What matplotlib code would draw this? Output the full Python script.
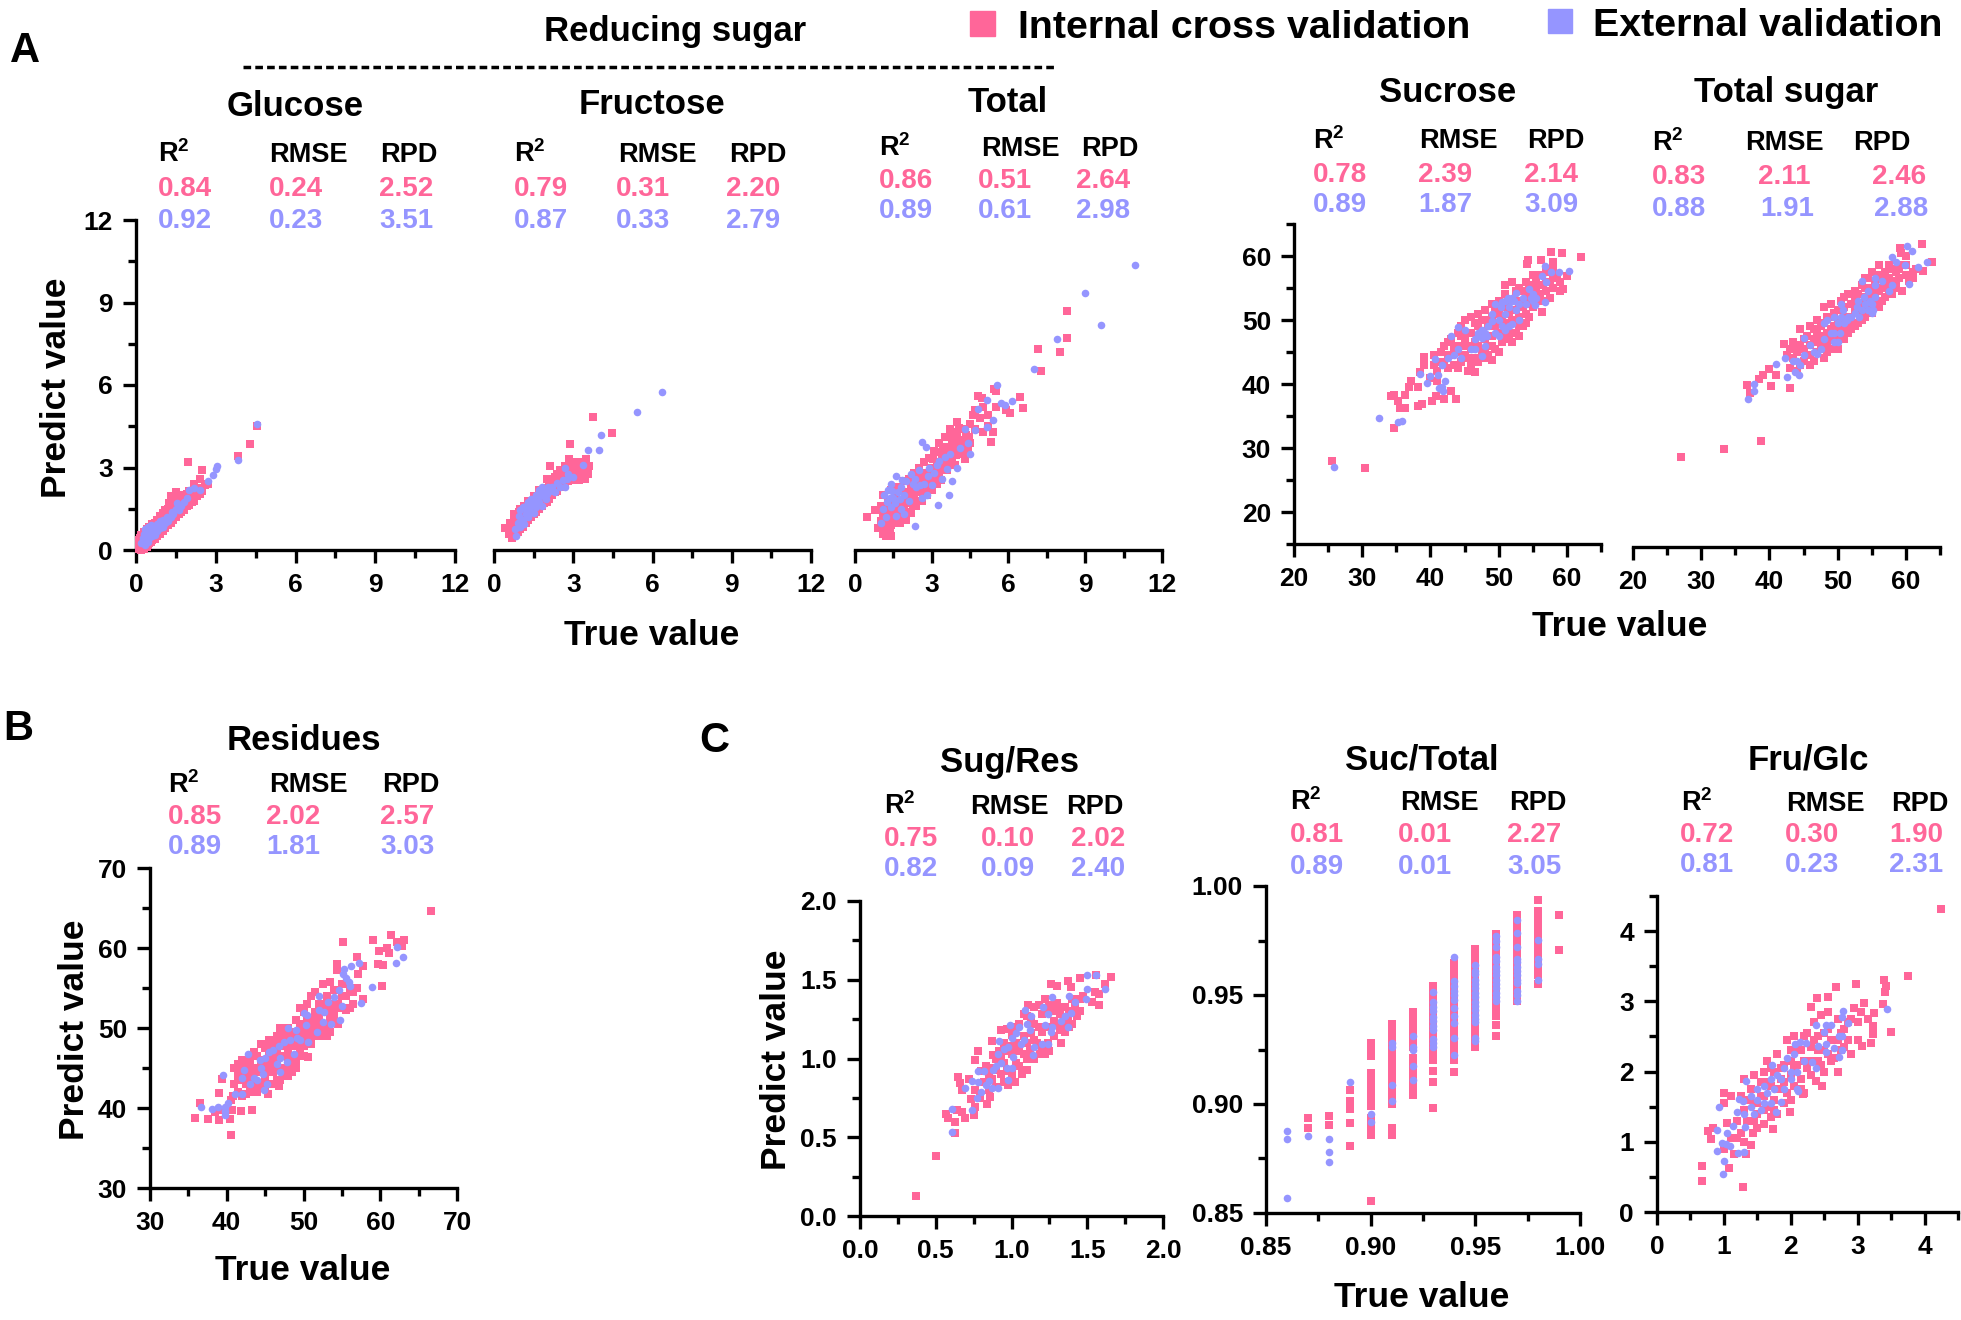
import numpy as np
import matplotlib
matplotlib.use("Agg")
import matplotlib.pyplot as plt
from matplotlib.ticker import MultipleLocator, FixedLocator

plt.rcParams['font.family'] = ['Liberation Sans', 'DejaVu Sans']
plt.rcParams['font.weight'] = 'bold'
plt.rcParams['mathtext.default'] = 'regular'

W, H = 1961, 1320
PINK = '#FF6699'
BLUE = '#9595FF'

# values: (true, predicted)
glc_cv = [(0.1,0.05),(0.1,0.2),(0.1,0.35),(0.15,0.1),(0.15,0.45),(0.2,0.0),(0.2,0.25),(0.2,0.55),(0.25,0.1),(0.25,0.4),(0.3,0.05),(0.3,0.3),(0.3,0.65),(0.35,0.15),(0.35,0.5),(0.4,0.1),(0.4,0.35),(0.4,0.75),(0.45,0.2),(0.45,0.6),(0.5,0.25),(0.5,0.5),(0.5,0.85),(0.55,0.3),(0.6,0.35),(0.6,0.65),(0.6,0.95),(0.7,0.4),(0.7,0.7),(0.7,1.0),(0.8,0.5),(0.8,0.85),(0.8,1.1),(0.9,0.6),(0.9,0.95),(0.9,1.25),(1.0,0.7),(1.0,1.05),(1.0,1.35),(1.1,0.8),(1.1,1.2),(1.1,1.45),(1.2,0.9),(1.2,1.3),(1.2,1.5),(1.3,1.0),(1.3,1.4),(1.3,1.95),(1.4,1.1),(1.4,1.5),(1.4,1.75),(1.5,1.2),(1.5,1.6),(1.5,2.1),(1.6,1.3),(1.6,1.75),(1.7,1.4),(1.7,1.85),(1.7,2.0),(1.8,1.45),(1.8,1.9),(1.9,1.6),(1.9,2.05),(2.0,1.65),(2.0,2.15),(2.1,1.75),(2.2,1.8),(2.2,2.4),(2.3,1.95),(2.4,2.05),(2.5,2.15),(2.4,2.6),(2.5,2.9),(1.96,3.2),(3.84,3.42),(4.3,3.85),(4.56,4.5),
          (1.25,1.7),(1.55,1.95),(1.75,1.6),(1.85,1.7),(2.05,1.9),(2.15,2.1),(2.3,2.25),(2.6,2.35),(2.7,2.4)]
glc_ev = [(0.2,0.25),(0.25,0.45),(0.3,0.3),(0.3,0.6),(0.35,0.2),(0.35,0.75),(0.4,0.4),(0.4,0.55),(0.45,0.3),(0.45,0.85),(0.5,0.45),(0.5,0.65),(0.55,0.9),(0.6,0.5),(0.6,0.75),(0.65,0.6),(0.7,0.55),(0.7,0.85),(0.8,0.7),(0.8,0.95),(0.9,0.8),(0.9,1.05),(1.0,0.85),(1.0,1.1),(1.1,1.0),(1.15,1.2),(1.2,1.05),(1.3,1.2),(1.4,1.3),(1.5,1.5),(1.55,1.7),(1.6,1.45),(1.7,1.6),(1.8,1.75),(1.9,1.9),(2.0,2.2),(2.2,2.25),(2.4,2.2),(2.71,2.5),(2.88,2.74),(3.06,3.04),(3.0,2.95),(3.84,3.29),(4.56,4.59),
          (0.55,0.55),(0.75,0.75),(0.85,0.85),(0.95,0.95),(1.05,1.05),(1.25,1.15),(1.35,1.4)]

fru_cv = [(0.43,0.8),(0.55,0.6),(0.6,1.0),(0.7,0.45),(0.7,0.75),(0.75,1.1),(0.75,1.3),(0.8,0.55),(0.8,0.9),(0.85,1.25),(0.9,0.65),(0.9,1.05),(0.95,1.4),(1.0,0.75),(1.0,1.15),(1.0,1.5),(1.05,0.95),(1.1,0.85),(1.1,1.3),(1.15,1.6),(1.2,1.0),(1.2,1.45),(1.3,1.1),(1.3,1.55),(1.3,1.8),(1.4,1.2),(1.4,1.65),(1.5,1.3),(1.5,1.75),(1.5,1.95),(1.6,1.4),(1.6,1.85),(1.7,1.5),(1.7,1.95),(1.7,2.2),(1.8,1.6),(1.8,2.05),(1.9,1.7),(1.9,2.15),(2.0,1.75),(2.0,2.25),(2.0,2.6),(2.1,1.85),(2.11,3.04),(2.1,2.4),(2.2,2.0),(2.2,2.5),(2.3,2.1),(2.3,2.65),(2.4,2.15),(2.4,2.75),(2.5,2.3),(2.5,2.9),(2.6,2.35),(2.6,2.75),(2.7,2.4),(2.7,3.05),(2.8,2.5),(2.89,3.84),(2.85,3.3),(2.9,2.55),(3.0,2.6),(3.0,3.2),(3.1,2.75),(3.2,2.55),(3.2,3.1),(3.3,2.7),(3.4,3.0),(3.5,3.3),(3.6,3.05),(3.55,2.75),(3.76,4.83),(4.45,4.27),
          (2.9,3.0),(3.1,3.0),(3.3,3.2),(3.45,2.6),(3.25,2.85),(2.95,2.75),(2.75,2.75),(2.45,2.55),(2.25,2.25)]
fru_ev = [(0.8,0.75),(0.85,0.5),(0.9,1.0),(0.95,1.25),(1.0,0.85),(1.0,1.45),(1.1,1.1),(1.1,1.55),(1.15,0.95),(1.2,1.3),(1.2,1.6),(1.3,1.2),(1.3,1.75),(1.4,1.4),(1.4,1.85),(1.5,1.35),(1.5,1.6),(1.6,1.55),(1.6,2.0),(1.7,1.75),(1.7,2.2),(1.8,1.6),(1.8,2.3),(1.9,1.95),(2.0,2.05),(2.1,2.15),(2.2,2.3),(2.3,2.1),(2.4,2.45),(2.5,2.3),(2.6,2.55),(2.7,2.3),(2.75,2.6),(2.7,3.0),(2.8,2.75),(3.0,2.65),(3.38,3.1),(3.55,3.65),(3.96,3.62),(4.05,4.2),(5.4,5.03),(6.36,5.76),
          (1.25,1.45),(1.35,1.55),(1.45,1.7),(1.55,1.8),(1.65,1.65),(1.75,1.95),(1.85,2.1),(1.95,1.85),(2.05,2.3),(2.25,2.15)]

tot_cv = [(0.45,1.2),(0.8,1.45),(0.9,0.8),(1.0,1.05),(1.0,1.6),(1.1,0.6),(1.1,1.3),(1.1,2.0),(1.2,0.5),(1.2,0.85),(1.2,1.5),(1.3,0.55),(1.3,1.1),(1.3,1.8),(1.4,0.5),(1.4,0.9),(1.4,2.2),(1.5,1.3),(1.5,1.65),(1.6,1.0),(1.6,2.0),(1.7,1.45),(1.7,2.3),(1.8,1.2),(1.8,1.8),(1.9,1.5),(1.9,2.5),(2.0,1.1),(2.0,2.1),(2.1,1.7),(2.1,2.6),(2.2,1.35),(2.2,2.3),(2.3,1.9),(2.3,2.8),(2.4,1.6),(2.4,2.5),(2.5,2.1),(2.5,3.0),(2.6,1.8),(2.6,2.7),(2.7,2.3),(2.7,3.2),(2.8,2.0),(2.8,2.8),(2.9,2.5),(2.9,3.35),(3.0,2.2),(3.0,3.0),(3.1,2.6),(3.1,3.6),(3.2,2.4),(3.2,3.2),(3.3,2.8),(3.3,3.9),(3.4,3.0),(3.4,3.5),(3.5,3.3),(3.5,4.1),(3.6,2.9),(3.6,3.7),(3.7,3.2),(3.7,4.4),(3.8,3.4),(3.8,4.0),(3.9,3.1),(3.9,3.7),(4.0,4.2),(4.0,4.65),(4.1,3.5),(4.1,3.9),(4.2,4.4),(4.3,3.3),(4.3,4.0),(4.4,3.6),(4.5,3.9),(4.5,4.6),(4.7,4.4),(4.7,5.1),(4.8,5.6),(4.9,4.8),(5.0,5.2),(5.0,4.3),(5.2,4.5),(5.2,4.9),(5.31,3.93),(5.4,4.3),(5.43,5.84),(5.5,5.8),(5.5,5.2),(5.9,5.1),(6.06,5.0),(6.45,5.58),(6.57,5.15),(4.96,5.53),(7.16,7.3),(7.28,6.5),(8.0,7.2),(8.27,7.7),(8.3,8.7),
          (1.15,1.1),(1.25,1.25),(1.35,0.7),(1.45,1.1),(1.55,1.45),(1.65,1.7),(1.75,1.0),(1.85,1.55),(1.95,1.85),(2.05,1.4),(2.15,2.0),(2.25,1.65),(2.35,2.2),(2.45,2.75),(2.55,2.4),(2.65,2.05),(2.75,2.6),(2.85,2.25),(2.95,2.75),(3.05,3.3),(3.15,2.85),(3.25,3.55),(3.35,2.55),(3.45,3.75),(3.55,3.15),(3.65,3.45),(3.75,3.75),(3.85,4.3),(3.95,3.45),(4.05,4.45),(4.15,3.7),(4.25,3.85),(4.35,4.2),(4.45,4.1),(4.6,4.9)]
tot_ev = [(1.0,1.0),(1.1,1.5),(1.15,2.0),(1.2,1.2),(1.25,1.75),(1.3,2.2),(1.4,2.4),(1.4,1.55),(1.5,1.9),(1.6,1.25),(1.6,2.7),(1.7,2.1),(1.8,1.5),(1.8,2.3),(1.9,1.3),(1.9,2.0),(2.0,2.5),(2.1,1.8),(2.2,2.75),(2.33,0.87),(2.4,2.3),(2.5,2.9),(2.6,3.93),(2.6,1.9),(2.7,2.4),(2.78,3.73),(2.8,2.0),(2.9,3.0),(3.0,2.35),(3.1,2.8),(3.25,1.65),(3.2,3.1),(3.4,2.6),(3.5,3.4),(3.67,1.99),(3.6,2.95),(3.7,3.5),(3.8,2.5),(4.0,3.0),(4.1,3.7),(4.3,4.4),(4.4,3.9),(4.5,3.5),(4.7,4.35),(5.16,4.46),(5.4,4.72),(4.8,5.12),(5.16,5.46),(5.55,6.0),(5.7,5.34),(5.85,5.26),(6.15,5.41),(6.99,6.59),(7.91,7.66),(8.99,9.33),(9.61,8.2),(10.93,10.35),
          (1.35,1.9),(1.45,2.15),(1.55,1.7),(1.75,1.85),(1.85,2.55),(2.25,2.4),(2.35,2.6),(2.55,2.35),(2.85,2.7),(3.3,3.25)]

suc_cv = [(25.6,27.9),(30.4,26.9),(34.7,33.2),(34.2,38.1),(34.7,38.3),(35.3,37.4),(36.3,38.3),(35.5,36.3),(36.3,36.3),(38.2,36.5),(38.7,36.9),(37.1,40.5),(36.8,39.6),(38.2,39.5),(38.4,41.9),(39.1,44.2),(39.1,43.0),(40.2,37.4),(40.8,38.2),(42,37.6),(43,38.9),(43.8,37.7),(62,59.9),(59.3,60.5),(57.6,60.7),(58,59),(56.2,59.4),(54.1,58.7),(54.3,59.3),(60,56.9),(59.5,54.8),(59,54.5),(56.4,51.2),(40,41),(40.5,44.5),(41,42),(41,40.5),(41.5,45),(42,43.5),(42,46),(42.5,42.5),(43,44.5),(43,47),(43.5,43),(43.5,46),(44,42.5),(44,45),(44,48),(44.5,49),(44.5,43.5),(45,44.5),(45,47),(45,50),(45.5,42),(45.5,46),(46,43),(46,48),(46,50.5),(46.5,44),(46.5,41.8),(47,46),(47,49),(47,51),(47.5,45),(47.5,48),(48,44),(48,47),(48,50),(48,51.5),(48.5,46),(48.5,49),(49,43.7),(49,47.5),(49,50.5),(49,52.5),(49.5,45.5),(49.5,49),(50,48),(50,51),(50,53),(50.5,46.5),(50.5,50),(51,49),(51,52),(51,55.5),(51.5,47),(51.5,51),(52,46.5),(52,50),(52,53),(52,56),(52.5,48),(52.5,51.5),(52.5,54.5),(53,47.5),(53,50.5),(53,53),(53,55),(53.5,49),(53.5,52),(54,51),(54,54),(54,56),(54.5,50.5),(54.5,53),(55,52),(55,55),(55,57),(55.5,53),(55.5,56),(56,54),(56,57),(56.5,53),(56.5,55.5),(57,54.5),(57,57.5),(57.5,53.5),(57.5,56),(58,55),(58,58),(58.5,57),(59,56),
          (40.5,43),(41.5,43.5),(42.5,44.5),(42.5,46.5),(43.5,44.8),(44.5,46),(44.5,47.5),(45.5,48),(45.5,44),(46,45.5),(46.5,46.5),(46.5,49.5),(47,43.5),(47.5,50),(48,45.5),(48.5,47.5),(48.5,44.5),(49,46),(49.5,51.5),(50,45),(50,49.5),(50.5,52),(50.5,48),(51,47.5),(51,54),(51.5,49.5),(51.5,53),(52,48),(52.5,49.5),(53,49),(53,52),(53.5,54.5),(54,49.5),(54,52.5),(54.5,55.5),(55,53.5),(55.5,54.5),(56,55.5),(57,56),(58,56.5)]
suc_ev = [(25.8,27),(32.5,34.7),(35.2,34.1),(35.8,34.2),(60.3,57.7),(58.9,57.5),(57.6,57.5),(56.8,58.5),(56.9,55.9),(56.3,56.9),(56.8,52.8),(38.5,41.6),(39.9,41.3),(41.1,41.4),(39.5,40.2),(42.2,40.4),(41.7,39.6),(41.8,38.9),(41.3,39.3),(40.7,43.9),(41.7,42.9),(42.5,44),(43,47.5),(43.5,44.5),(44,45.5),(44,48.9),(44.5,44),(45,48.5),(46,45.5),(46.5,45.5),(46.5,47),(47,48),(47.5,44.3),(47.5,48.5),(48,46),(48,48),(48.5,49),(49,51),(49,49.8),(49.5,52.5),(49.5,48),(50,47.5),(50,50),(50.5,49),(50.5,52.8),(51,48.5),(51,53),(51,51),(51.5,52),(51.5,49),(52,53.5),(52,49.3),(52.5,54.2),(52.5,51.5),(53,50),(53.5,53.5),(54,52.5),(54.5,54.8),(55,54),(55,53),(55.5,53.5),
          (47,47.5),(47.5,47.2),(48.3,47.5),(50.3,52),(51.3,53.5),(51.8,53),(52.3,53),(53,52.5),(54.8,53.5),(55.3,52.3)]

tsg_cv = [(27,29),(33.3,30.3),(38.8,31.5),(36.7,40.3),(37.1,39),(40.2,40.1),(43,39.8),(38.5,41.2),(39,41.8),(39.9,42.8),(40.9,41.9),(42.2,46.7),(62.4,62.3),(63.9,59.5),(62.5,58.1),(59.2,61.7),(59.3,61),(42.5,45),(43,43),(43,46),(43.5,44.5),(43.5,47),(44,42.5),(44,45.5),(44.5,43.5),(44.5,46.5),(44.5,49),(45,44),(45,47.5),(45.5,45),(45.5,48),(46,43.5),(46,46.5),(46,49.5),(46.5,44),(46.5,47.5),(47,45.5),(47,48.5),(47,50.5),(47.5,46),(47.5,49.5),(48,44.5),(48,47),(48,50),(48,52.5),(48.5,45.5),(48.5,48.5),(48.5,51),(49,46),(49,49),(49,53),(49.5,47.5),(49.5,51.5),(50,46),(50,49),(50,52),(50.5,47.5),(50.5,50.5),(50.5,53.5),(51,47.5),(51,49.5),(51,52.5),(51.5,48.5),(51.5,51),(51.5,54.5),(52,49),(52,53),(52.5,49.5),(52.5,52),(52.5,55),(53,50),(53,53),(53,54.5),(53.5,50.5),(53.5,56),(54,51),(54,54),(54,57),(54.5,52),(54.5,55.5),(55,51.5),(55,54),(55,58),(55.5,53),(55.5,56.5),(56,52.5),(56,55),(56,59),(56.5,53.5),(56.5,57),(57,54),(57,58),(57.5,55),(57.5,59),(58,54.5),(58,56.5),(58.5,55.5),(58.5,58),(59,57),(59.5,55),(59.5,59),(60,57.5),(60,60.5),(60.5,56.5),(61,58),(61,57),(61.5,58.5),
          (44,46.5),(45,46),(46,45),(46.5,49),(47,47),(47.5,48),(48,46),(48.5,47),(49,47.5),(49,51),(49.5,49.5),(50,50.5),(50,47.5),(50.5,49),(51,51),(51,54),(51.5,50),(52,50.5),(52,54.5),(52.5,53.5),(53,51.5),(53.5,53),(54,52.5),(54,55.5),(54.5,53.5),(54.5,57),(55,52.5),(55,55.5),(55.5,54.5),(56,53.5),(56,57.5),(56.5,55.5),(57,56),(57.5,57),(58,58.5),(58.5,56.5),(59,58.5),(60,59)]
tsg_ev = [(36.9,38.2),(37.7,39.3),(37.7,40.5),(41,43.6),(42.3,44.5),(42.6,41.6),(44.4,41.8),(43.7,42.3),(60.1,62),(60.9,61.2),(59.8,59.1),(63.1,59.5),(61.8,58.8),(57.9,60.3),(58.6,59.6),(60.4,56.1),(45.1,47.6),(43.5,44),(44,44),(44.5,43.5),(45,45),(46,46.5),(46.5,45.5),(47,45.2),(47.5,46),(48,47.5),(48,50),(48.5,50.5),(49,48.5),(49.5,47),(49.5,51),(50,47),(50,50),(50.5,53),(50.5,51),(51,50),(51.5,51),(52,51),(52.5,51.5),(53,53.5),(53.5,52),(53.5,56.5),(54,53),(54.5,52),(54.5,55),(55,51.5),(55,53),(55.5,54),(55.5,56),(56.5,56.5),(57.5,55),(58,56),
          (49.5,48.5),(50.3,48.5),(50.8,52),(51.3,50.5),(52.8,52.5),(53.2,51),(53.8,54),(54.8,53.5),(55.2,52),(55.5,57)]

res_cv = [(66.6,64.6),(61.4,61.6),(63.1,61),(59.1,61),(55.1,60.8),(62.2,60.8),(60.9,60),(59.9,59.6),(61.1,59.4),(62.8,60.3),(59.7,58),(60.4,57.9),(60.2,55.2),(57.7,57.8),(57,58.9),(54.4,58),(54.4,57.3),(57.8,53.6),(57.1,56.8),(35.9,38.8),(36.5,40.6),(37.5,38.6),(39,38.5),(40.4,38.6),(40.6,36.6),(41.9,39.6),(43.3,39.8),(39,41.9),(39.4,43.6),(40.7,39.8),(45.4,41.7),(46.8,42.8),(50.6,46.4),(38.5,39.5),(39.2,39.8),(40.5,41),(41,43),(41,45),(41.5,42),(41.5,44),(42,41.5),(42,43.5),(42,46),(42.5,43),(42.5,45),(43,42),(43,44),(43,46),(43.5,43),(43.5,47),(44,42),(44,44.5),(44,46.5),(44.5,43),(44.5,45.5),(44.5,48),(45,44),(45,46),(45,47.5),(45.5,43),(45.5,45),(45.5,48.5),(46,44.5),(46,47),(46.5,43.5),(46.5,46),(46.5,49),(47,45),(47,48),(47,50),(47.5,44),(47.5,46.5),(47.5,49),(48,45),(48,47.5),(48,50),(48.5,44.5),(48.5,46.5),(48.5,49),(49,46),(49,48),(49,51),(49.5,47),(49.5,50),(49.5,52.5),(50,46.5),(50,49),(50,52),(50.5,48),(50.5,51),(51,48),(51,50),(51,54),(51.5,49),(51.5,52),(51.5,54.5),(52,49),(52,51),(52,53),(52.5,50.5),(52.5,55.5),(53,49),(53,52),(53,54),(53.5,49.5),(53.5,51),(53.5,55.8),(54,52),(54,54.7),(54.5,50.5),(54.5,53),(55,52.5),(55,54),(55.5,54),(55.5,52.2),(56,55),(56,52.5),(56.5,54.5),(56.5,53),(57,55),(52,50.2),
          (40.8,41.5),(41.5,45.5),(42,44.5),(42.5,41.8),(43,45),(43.5,45),(44,43),(44.5,44.5),(45,42.5),(45,45),(45.5,46.5),(46,43),(46,45.5),(46,48),(46.5,47),(47,43.5),(47,46.5),(47.5,47.7),(48,44),(48,46),(48,48.7),(48.5,47.7),(49,45),(49,49.5),(49.5,48.5),(50,47.7),(50,50.5),(50.5,49.5),(50.5,53),(51,51),(51,49),(51.5,50.5),(52,52),(52.5,49.5),(52.5,52.5),(53,50.5),(53,53),(54,53),(54,51),(55,55.5)]
res_ev = [(36.7,40.1),(38.1,39.9),(38.9,40.1),(39.8,40.1),(40.1,40.6),(39.8,39.6),(39.8,39.1),(39.5,44.1),(42.8,46.8),(41.1,41.8),(42,41.7),(44.8,42.3),(62.2,60.1),(63,58.9),(62.1,58.1),(58.9,55.1),(57.2,58.1),(56.2,57.7),(55.3,57.4),(55.2,56.8),(55.6,56.2),(55.9,55.8),(56.1,55.2),(57.5,53.1),(55,52.8),(54.6,54.7),(54,53.9),(53.2,53.3),(52,54),(54.7,51),(53.6,50.5),(42,43.8),(42.3,44.7),(43,43),(43.5,43.7),(44,43.5),(44.3,46),(44.5,45),(44.7,44.3),(45,46.2),(45.3,43),(45.5,47),(46,47.2),(46.5,45.5),(46.8,47.8),(47,44.5),(47,46.3),(47.5,48.2),(47.8,45.8),(48,50),(48.3,48.5),(48.8,46.7),(49,49.7),(49.2,48.8),(49.6,48.5),(50,51.9),(50.3,50.4),(50.5,51.6),(50.6,48.2),(51.8,49.5),(52,52.2),(52.5,50.8),(52.7,52)]

sr_cv = [(0.37,0.126),(0.5,0.384),(0.63,0.525),(0.63,0.6),(0.58,0.62),(0.57,0.65),(0.64,0.67),(0.67,0.66),(0.69,0.62),(0.75,0.64),(0.76,0.695),(0.65,0.88),(0.66,0.845),(0.67,0.80),(0.73,0.746),(0.84,0.71),(0.86,0.756),(0.78,1.05),(0.87,1.11),(1.66,1.52),(1.45,1.51),(1.56,1.53),(1.37,1.49),(1.39,1.456),(1.26,1.47),(1.3,1.46),(1.62,1.47),(1.55,1.42),(1.58,1.41),(1.58,1.34),(1.53,1.36),(1.45,1.30),(1.33,1.10),(0.72,0.87),(0.76,0.8),(0.76,0.99),(0.79,0.75),(0.8,0.92),(0.82,0.85),(0.83,0.95),(0.85,0.8),(0.87,0.87),(0.88,1.02),(0.9,0.82),(0.9,0.93),(0.92,1.05),(0.93,1.18),(0.95,0.85),(0.95,0.97),(0.95,1.1),(0.97,1.19),(0.98,0.83),(1.0,0.9),(1.0,1.03),(1.0,1.15),(1.02,0.85),(1.03,0.97),(1.03,1.1),(1.05,1.22),(1.07,0.9),(1.08,1.03),(1.08,1.14),(1.1,0.93),(1.1,1.27),(1.11,1.34),(1.12,1.05),(1.13,1.16),(1.15,1.0),(1.15,1.22),(1.17,1.1),(1.18,1.34),(1.19,1.03),(1.2,1.17),(1.2,1.28),(1.22,1.03),(1.22,1.38),(1.24,1.1),(1.25,1.2),(1.25,1.05),(1.27,1.3),(1.28,1.14),(1.3,1.22),(1.3,1.35),(1.32,1.18),(1.32,1.28),(1.35,1.17),(1.35,1.33),(1.37,1.25),(1.38,1.2),(1.4,1.3),(1.4,1.22),(1.43,1.27),(1.45,1.38),(1.47,1.4),
         (0.85,0.9),(0.88,0.94),(0.9,1.0),(0.93,0.9),(0.93,1.02),(0.97,1.05),(0.97,0.92),(1.0,1.08),(1.02,1.2),(1.05,1.05),(1.05,0.95),(1.08,1.28),(1.1,1.1),(1.1,1.0),(1.13,1.25),(1.15,1.33),(1.15,1.12),(1.18,1.2),(1.2,1.08),(1.23,1.3),(1.25,1.34),(1.28,1.24),(1.3,1.3),(1.33,1.33),(1.35,1.22),(1.38,1.3),(1.4,1.38),(1.42,1.33)]
sr_ev = [(0.61,0.68),(0.61,0.535),(0.74,0.675),(0.69,0.81),(0.77,0.75),(0.8,0.79),(1.56,1.53),(1.5,1.53),(1.62,1.44),(1.5,1.44),(1.49,1.38),(1.38,1.4),(1.27,1.39),(1.42,1.36),(1.39,1.29),(1.09,1.31),(1.21,1.33),(0.99,1.21),(0.92,1.11),(0.98,0.865),(0.91,0.81),(0.87,0.81),(0.74,0.86),(0.78,0.85),(0.78,0.92),(0.82,0.92),(0.83,0.83),(0.85,0.86),(0.88,0.93),(0.9,0.95),(0.91,1.03),(0.93,0.97),(0.95,1.06),(0.97,0.94),(0.98,1.07),(1.0,0.94),(1.0,1.13),(1.01,1.01),(1.03,1.16),(1.05,1.2),(1.06,1.09),(1.08,1.12),(1.1,1.22),(1.12,1.18),(1.13,1.27),(1.14,1.02),(1.15,1.07),(1.2,1.09),(1.22,1.21),(1.24,1.28),(1.24,1.09),(1.26,1.17),(1.27,1.2),(1.33,1.24),(1.35,1.27),(1.37,1.2)]

# Suc/Total values sit on discrete x columns
st_cv_cols = [(0.87,[0.8936,0.889]),(0.88,[0.8943,0.8903]),(0.89,[0.9062,0.9015,0.8977,0.8911,0.8808]),
              (0.90,[0.928,0.925,0.922,0.914,0.911,0.908,0.905,0.902,0.899,0.8936,0.891,0.8885,0.8857,0.8556]),
              (0.91,[0.9367,0.934,0.931,0.928,0.925,0.922,0.919,0.916,0.913,0.9094,0.906,0.903,0.8998,0.889,0.887,0.8857]),
              (0.92,[0.942,0.939,0.9358,0.9353,0.932,0.929,0.9263,0.9209,0.918,0.915,0.912,0.909,0.906,0.9042]),
              (0.93,[0.9542,0.951,0.948,0.945,0.942,0.939,0.936,0.933,0.93,0.927,0.924,0.92,0.9151,0.9103,0.898]),
              (0.94,[0.9648,0.962,0.959,0.956,0.953,0.95,0.947,0.944,0.941,0.938,0.935,0.932,0.929,0.926,0.923,0.92,0.9147]),
              (0.95,[0.971,0.968,0.965,0.962,0.959,0.956,0.953,0.95,0.947,0.944,0.941,0.938,0.935,0.932,0.929,0.9261]),
              (0.96,[0.978,0.975,0.972,0.969,0.966,0.963,0.96,0.957,0.954,0.951,0.948,0.945,0.942,0.9402,0.9363,0.9314]),
              (0.97,[0.9868,0.984,0.981,0.978,0.975,0.972,0.969,0.966,0.963,0.96,0.957,0.954,0.951,0.9472]),
              (0.98,[0.9938,0.9886,0.986,0.983,0.98,0.977,0.974,0.971,0.968,0.965,0.962,0.959,0.9551]),
              (0.99,[0.9866,0.9706])]
st_ev_cols = [(0.86,[0.8876,0.8838,0.8568]),(0.87,[0.8852]),(0.88,[0.8841,0.878,0.8734]),(0.89,[0.9101]),
              (0.90,[0.8954,0.8918]),(0.91,[0.9279,0.9261,0.9086,0.9012]),(0.92,[0.9314,0.9261,0.925,0.9174,0.9112]),
              (0.93,[0.9516,0.947,0.9445,0.9425,0.94,0.938,0.936,0.934,0.93,0.928,0.926]),(0.94,[0.9673,0.9562,0.954,0.952,0.95,0.9475,0.944,0.9405,0.937,0.9305,0.9226]),
              (0.95,[0.9638,0.961,0.9596,0.957,0.955,0.953,0.951,0.949,0.947,0.945,0.943,0.941,0.939,0.9376,0.9305,0.929]),
              (0.96,[0.9772,0.975,0.972,0.9675,0.9655,0.963,0.961,0.959,0.957,0.955,0.953,0.951,0.949,0.9472]),(0.97,[0.9842,0.9784,0.9719,0.9667,0.965,0.963,0.961,0.959,0.957,0.9553,0.9518,0.95,0.9472]),
              (0.98,[0.9754,0.9667,0.9641,0.9569])]

fg_cv = [(4.25,4.31),(3.75,3.36),(3.4,3.3),(3.42,3.22),(3.41,3.14),(2.97,3.25),(2.67,3.2),(2.39,3.05),(2.55,3.06),(2.3,2.92),(3.09,2.97),(3.38,2.96),(3.24,2.83),(3.23,2.65),(3.23,2.54),(3.5,2.57),(3.2,2.4),(3.07,2.36),(0.67,0.66),(0.68,0.44),(1.29,0.35),(1.07,0.63),(0.76,1.15),(0.84,1.19),(0.81,1.04),(1.33,0.83),(1.99,1.42),(1.74,1.18),(2.46,1.79),(2.37,1.86),(2.18,1.68),(1.44,1.13),(1.0,0.9),(1.0,1.7),(1.0,1.55),(1.05,1.27),(1.1,1.05),(1.1,1.65),(1.15,0.82),(1.2,1.05),(1.2,1.3),(1.25,1.12),(1.25,1.65),(1.3,1.45),(1.3,1.9),(1.3,1.0),(1.35,1.3),(1.4,0.96),(1.4,1.75),(1.45,1.3),(1.45,1.95),(1.5,1.55),(1.5,1.2),(1.55,1.85),(1.6,1.25),(1.6,1.65),(1.6,2.0),(1.65,1.5),(1.65,2.15),(1.7,1.35),(1.7,1.8),(1.75,2.0),(1.75,1.6),(1.8,1.4),(1.8,2.25),(1.85,1.75),(1.85,1.9),(1.9,1.55),(1.9,2.1),(1.95,2.45),(2.0,1.6),(2.0,1.95),(2.0,2.3),(2.05,1.8),(2.05,2.5),(2.1,2.1),(2.15,1.9),(2.15,2.3),(2.2,1.7),(2.2,2.15),(2.25,2.55),(2.3,1.95),(2.3,2.35),(2.35,2.7),(2.4,2.15),(2.4,2.5),(2.45,2.8),(2.5,2.0),(2.5,2.3),(2.55,2.6),(2.55,2.85),(2.6,2.15),(2.65,2.45),(2.7,2.0),(2.7,2.75),(2.75,2.3),(2.8,2.6),(2.85,2.45),(2.9,2.25),(2.9,2.75),(2.95,2.9),(3.0,2.45),(3.05,2.85),(3.15,2.75),
         (1.35,1.6),(1.45,1.55),(1.5,1.4),(1.55,1.65),(1.6,1.45),(1.65,1.85),(1.7,2.05),(1.75,1.45),(1.8,1.75),(1.85,2.05),(1.9,1.85),(1.95,1.7),(2.0,2.15),(2.05,2.05),(2.1,2.3),(2.15,1.75),(2.2,2.5),(2.25,2.05),(2.3,2.15),(2.35,2.45),(2.4,2.3),(2.45,2.1),(2.5,2.55),(2.55,2.25),(2.6,2.45),(2.65,2.2),(2.7,2.45),(2.75,2.55),(2.8,2.35),(2.85,2.7),(3.0,2.7)]
fg_ev = [(3.44,2.89),(2.78,2.86),(2.77,2.78),(2.85,2.69),(2.38,2.67),(2.53,2.67),(2.6,2.67),(2.49,2.56),(2.72,2.51),(2.76,2.51),(2.52,2.39),(2.64,2.34),(2.77,2.31),(2.53,2.28),(2.72,2.21),(2.41,2.37),(2.38,2.05),(2.32,2.14),(2.06,2.39),(2.14,2.42),(2.23,2.4),(1.72,2.1),(1.33,1.86),(0.93,1.49),(0.89,1.17),(1.05,1.12),(0.89,0.87),(1,0.72),(0.99,0.54),(0.97,0.98),(1.03,0.97),(1.09,0.94),(1.21,0.84),(1.3,0.85),(1.32,1.21),(1.13,1.23),(1.19,1.42),(1.23,1.61),(1.28,1.58),(1.78,1.42),(2.11,1.73),(1.86,1.56),(1.3,1.4),(1.4,1.5),(1.4,1.65),(1.45,1.4),(1.5,1.6),(1.5,1.75),(1.55,1.45),(1.6,1.55),(1.6,1.8),(1.65,1.7),(1.7,1.9),(1.7,1.55),(1.75,1.75),(1.8,1.95),(1.85,1.9),(1.9,2.05),(1.9,1.75),(1.95,2.2),(2.0,2.0),(2.0,1.9),(2.05,2.25),(2.1,2.0),(2.2,2.15),(2.1,1.75)]

stats_cv = {'glc': ['0.84','0.24','2.52'], 'fru': ['0.79','0.31','2.20'], 'tot': ['0.86','0.51','2.64'],
            'suc': ['0.78','2.39','2.14'], 'tsg': ['0.83','2.11','2.46'], 'res': ['0.85','2.02','2.57'],
            'sr': ['0.75','0.10','2.02'], 'st': ['0.81','0.01','2.27'], 'fg': ['0.72','0.30','1.90']}
stats_ev = {'glc': ['0.92','0.23','3.51'], 'fru': ['0.87','0.33','2.79'], 'tot': ['0.89','0.61','2.98'],
            'suc': ['0.89','1.87','3.09'], 'tsg': ['0.88','1.91','2.88'], 'res': ['0.89','1.81','3.03'],
            'sr': ['0.82','0.09','2.40'], 'st': ['0.89','0.01','3.05'], 'fg': ['0.81','0.23','2.31']}

fig = plt.figure(figsize=(W / 100, H / 100), dpi=100)


def tx(x, y, s, size, color='black', ha='center', **kw):
    # x, y in picture pixels, nudged down a little for the baseline
    fig.text(x / W, 1 - (y + 2.5) / H, s, fontsize=size, color=color, ha=ha, va='center', fontweight='bold', **kw)


def panel(left, right, top, bottom, xlim, ylim, major, minor, cv, ev, fmt, show_y=True, xticks=None):
    ax = fig.add_axes([left / W, 1 - bottom / H, (right - left) / W, (bottom - top) / H])
    ax.patch.set_alpha(0)
    ax.scatter(cv[0], cv[1], marker='s', s=30, color=PINK, linewidths=0, clip_on=False, zorder=3)
    ax.scatter(ev[0], ev[1], marker='o', s=30, color=BLUE, linewidths=0, clip_on=False, zorder=4)
    ax.set_xlim(xlim)
    ax.set_ylim(ylim)
    for s in ['top', 'right']:
        ax.spines[s].set_visible(False)
    for s in ['left', 'bottom']:
        ax.spines[s].set_linewidth(2.4)
    if xticks is None:
        ax.xaxis.set_major_locator(MultipleLocator(major))
    else:
        ax.xaxis.set_major_locator(FixedLocator(xticks))
    ax.xaxis.set_minor_locator(MultipleLocator(minor))
    ax.yaxis.set_major_locator(MultipleLocator(major))
    ax.yaxis.set_minor_locator(MultipleLocator(minor))
    ax.xaxis.set_major_formatter(fmt)
    ax.yaxis.set_major_formatter(fmt)
    ax.tick_params(which='major', length=9.5, width=2.4, labelsize=19, pad=7)
    ax.tick_params(which='minor', length=5.5, width=2.4)
    if not show_y:
        ax.spines['left'].set_visible(False)
        ax.tick_params(axis='y', which='both', left=False, labelleft=False)
    return ax


def xy(pairs):
    a = np.array(pairs)
    return a[:, 0], a[:, 1]


def cols(columns):
    xs, ys = [], []
    for cx, vals in columns:
        xs += [cx] * len(vals)
        ys += vals
    return xs, ys


def stats(key, head_x, val_x, ys, ev_x=None):
    tx(head_x[0], ys[0], 'R$^{2}$', 19.5, ha='left')
    tx(head_x[1], ys[0], 'RMSE', 19.5, ha='left')
    tx(head_x[2], ys[0], 'RPD', 19.5, ha='left')
    ev_x = ev_x or val_x
    for i in range(3):
        tx(val_x[i], ys[1], stats_cv[key][i], 20, color=PINK, ha='left')
        tx(ev_x[i], ys[2], stats_ev[key][i], 20, color=BLUE, ha='left')


f0 = '{x:.0f}'
f1 = '{x:.1f}'
f2 = '{x:.2f}'

# panel A
panel(136, 455, 220, 550, (0, 12), (0, 12), 3, 1.5, xy(glc_cv), xy(glc_ev), f0)
panel(494, 811, 220, 550, (0, 12), (0, 12), 3, 1.5, xy(fru_cv), xy(fru_ev), f0, show_y=False)
panel(855, 1162, 220, 550, (0, 12), (0, 12), 3, 1.5, xy(tot_cv), xy(tot_ev), f0, show_y=False)
panel(1294, 1601, 224, 544, (20, 65), (15, 65), 10, 5, xy(suc_cv), xy(suc_ev), f0, xticks=[20, 30, 40, 50, 60])
panel(1633, 1940, 227, 547, (20, 65), (15, 65), 10, 5, xy(tsg_cv), xy(tsg_ev), f0, show_y=False, xticks=[20, 30, 40, 50, 60])
# panel B
panel(150, 457, 868, 1188, (30, 70), (30, 70), 10, 5, xy(res_cv), xy(res_ev), f0)
# panel C
panel(860, 1163, 901, 1216, (0, 2), (0, 2), 0.5, 0.25, xy(sr_cv), xy(sr_ev), f1)
panel(1266, 1580, 886, 1213, (0.85, 1.0), (0.85, 1.0), 0.05, 0.025, cols(st_cv_cols), cols(st_ev_cols), f2)
panel(1657, 1958, 896, 1212, (0, 4.5), (0, 4.5), 1, 0.5, xy(fg_cv), xy(fg_ev), f0)

# titles and stat tables
tx(675, 29, 'Reducing sugar', 25)
fig.add_artist(plt.Line2D([243 / W, 1056 / W], [1 - 67 / H, 1 - 67 / H], color='black', lw=2.5, ls=(0, (2.2, 1.2))))
tx(295, 104, 'Glucose', 25)
tx(652, 102, 'Fructose', 25)
tx(1008, 100, 'Total', 25)
tx(1448, 90, 'Sucrose', 25)
tx(1786, 90, 'Total sugar', 25)
tx(304, 738, 'Residues', 25)
tx(1010, 760, 'Sug/Res', 25)
tx(1422, 758, 'Suc/Total', 25)
tx(1808, 757, 'Fru/Glc', 25)

stats('glc', (158, 269, 380), (158, 269, 379), (152, 186, 218))
stats('fru', (514, 618, 729), (514, 616, 726), (152, 186, 218))
stats('tot', (879, 981, 1081), (879, 978, 1076), (146, 179, 209))
stats('suc', (1313, 1419, 1527), (1313, 1418, 1524), (139, 172, 202))
stats('tsg', (1652, 1745, 1853), (1652, 1758, 1872), (141, 175, 207), ev_x=(1652, 1760, 1874))
stats('res', (168, 269, 382), (168, 266, 380), (783, 815, 845))
stats('sr', (884, 970, 1066), (884, 981, 1071), (804, 836, 867))
stats('st', (1290, 1400, 1509), (1290, 1398, 1507), (800, 832, 864))
stats('fg', (1681, 1786, 1891), (1680, 1785, 1889), (801, 832, 862))

# axis names
tx(652, 633, 'True value', 25.5)
tx(1620, 624, 'True value', 25.5)
tx(303, 1268, 'True value', 25.5)
tx(1422, 1295, 'True value', 25.5)
tx(57, 385, 'Predict value', 25.5, rotation=90)
tx(74, 1027, 'Predict value', 25.5, rotation=90)
tx(776, 1057, 'Predict value', 25.5, rotation=90)

# panel letters
tx(10, 48, 'A', 30, ha='left')
tx(3, 727, 'B', 30, ha='left')
tx(699, 738, 'C', 30, ha='left')

# legend
fig.add_artist(plt.Rectangle((970 / W, 1 - 36 / H), 25 / W, 25 / H, color=PINK, transform=fig.transFigure))
tx(1018, 26, 'Internal cross validation', 28.4, ha='left')
fig.add_artist(plt.Rectangle((1548 / W, 1 - 33 / H), 24 / W, 24 / H, color=BLUE, transform=fig.transFigure))
tx(1593, 23, 'External validation', 28.4, ha='left')

fig.savefig('out.png', dpi=100)
